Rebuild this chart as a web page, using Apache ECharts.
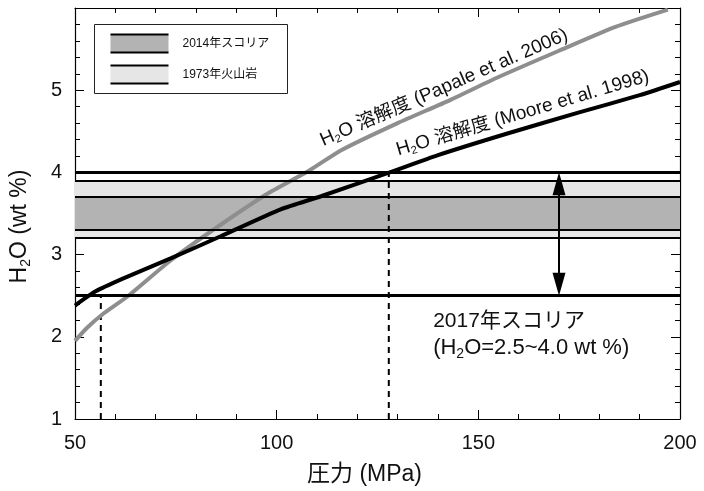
<!DOCTYPE html>
<html>
<head>
<meta charset="utf-8">
<script src="https://cdn.jsdelivr.net/npm/echarts@6/dist/echarts.min.js"></script>
<style>
  html, body { margin: 0; padding: 0; background: #fff; }
  #chart { width: 704px; height: 491px; }
</style>
</head>
<body>
<div id="chart"></div>
<script>
  // Papale et al. 2006 (gray)
  const papalePressure = [50, 53, 57, 63, 74, 86, 98, 108, 116, 130, 143, 155, 170, 184, 197]
  const papaleH2O = [1.95, 2.11, 2.28, 2.49, 2.94, 3.36, 3.75, 4.02, 4.27, 4.60, 4.88, 5.16, 5.48, 5.77, 5.98]
  // Moore et al. 1998 (black)
  const moorePressure = [50, 55, 62, 74, 86, 101, 111, 128, 140, 157, 175, 190, 200]
  const mooreH2O = [2.38, 2.55, 2.71, 2.96, 3.22, 3.55, 3.71, 4.0, 4.21, 4.47, 4.73, 4.94, 5.10]
  // bands
  const lava1973 = [3.2, 3.9]
  const scoria2014 = [3.3, 3.7]
  const scoria2017 = [2.5, 4.0]
  // dashed verticals: pressure, top H2O
  const dashPressure = [56.4, 127.8]
  const dashTop = [2.5, 4.0]
  const arrowPressure = 170
  const xTicks = [50, 100, 150, 200]
  const yTicks = [1, 2, 3, 4, 5]

  const FONT = "'Liberation Sans', Arial, 'Noto Sans CJK JP', sans-serif"
  const chart = echarts.init(document.getElementById('chart'))

  const zip = (a, b) => a.map((v, i) => [v, b[i]])

  function mirrorAxis(extra) {
    return Object.assign({
      type: 'value',
      axisLine: { show: true, onZero: false, lineStyle: { color: '#000', width: 1.2 } },
      axisTick: { show: true, inside: true, length: 9, lineStyle: { color: '#000', width: 1 } },
      minorTick: { show: true, splitNumber: 5, length: 5, lineStyle: { color: '#000', width: 1 } },
      splitLine: { show: false },
      minorSplitLine: { show: false },
      axisLabel: { show: false }
    }, extra)
  }

  const hLines = [
    { yAxis: scoria2017[1], lineStyle: { width: 3 } },
    { yAxis: lava1973[1], lineStyle: { width: 2 } },
    { yAxis: scoria2014[1], lineStyle: { width: 2 } },
    { yAxis: scoria2014[0], lineStyle: { width: 2 } },
    { yAxis: lava1973[0], lineStyle: { width: 2 } },
    { yAxis: scoria2017[0], lineStyle: { width: 3 } }
  ]

  const dashSeries = dashPressure.map((p, i) => ({
    type: 'line',
    symbol: 'none',
    silent: true,
    z: 3,
    lineStyle: { color: '#000', width: 2, type: [6, 5] },
    data: [[p, 1], [p, dashTop[i]]]
  }))

  // arrow heads are centred on the line ends, so pull the ends in by half a head
  const headLen = 23
  const pxPerUnit = (491 - 8 - 71) / 5
  const headShift = headLen / 2 / pxPerUnit

  chart.setOption({
    backgroundColor: '#fff',
    animation: false,
    textStyle: { fontFamily: FONT },
    grid: { left: 75, right: 24, top: 8, bottom: 71 },
    xAxis: [
      mirrorAxis({
        min: xTicks[0], max: xTicks[xTicks.length - 1], interval: 50, position: 'bottom',
        axisLabel: { show: true, fontSize: 20, color: '#111', margin: 14, fontFamily: FONT },
        name: '圧力 (MPa)',
        nameLocation: 'middle',
        nameGap: 44,
        nameTextStyle: { fontSize: 23, color: '#111', fontFamily: FONT, padding: [0, 26, 0, 0] }
      }),
      mirrorAxis({ min: 50, max: 200, interval: 50, position: 'top' })
    ],
    yAxis: [
      mirrorAxis({
        min: yTicks[0], max: 6, interval: 1, position: 'left',
        axisLabel: {
          show: true, fontSize: 20, color: '#111', margin: 13, fontFamily: FONT,
          formatter: v => (yTicks.indexOf(v) >= 0 ? String(v) : '')
        },
        name: '{a|H}{s|2}{a|O (wt %)}',
        nameLocation: 'middle',
        nameGap: 42,
        nameTextStyle: {
          color: '#111',
          padding: [0, 26, 0, 0],
          rich: {
            a: { fontSize: 23, color: '#111', fontFamily: FONT },
            s: { fontSize: 14, color: '#111', fontFamily: FONT, padding: [13, 0, 0, 0] }
          }
        }
      }),
      mirrorAxis({ min: 1, max: 6, interval: 1, position: 'right' })
    ],
    graphic: [
      {
        type: 'group', left: 94, top: 24, z: 100,
        children: [
          { type: 'rect', shape: { x: 0, y: 0, width: 193, height: 69 },
            style: { fill: '#fff', stroke: '#222', lineWidth: 1 } },
          { type: 'rect', shape: { x: 16, y: 10, width: 58, height: 18 }, style: { fill: '#b3b3b3' } },
          { type: 'line', shape: { x1: 16, y1: 10, x2: 74, y2: 10 }, style: { stroke: '#000', lineWidth: 2 } },
          { type: 'line', shape: { x1: 16, y1: 28, x2: 74, y2: 28 }, style: { stroke: '#000', lineWidth: 2 } },
          { type: 'text', x: 88, y: 19, style: { text: '2014年スコリア', font: '12px ' + FONT, fill: '#111', verticalAlign: 'middle' } },
          { type: 'rect', shape: { x: 16, y: 41, width: 58, height: 18 }, style: { fill: '#e6e6e6' } },
          { type: 'line', shape: { x1: 16, y1: 41, x2: 74, y2: 41 }, style: { stroke: '#000', lineWidth: 2 } },
          { type: 'line', shape: { x1: 16, y1: 59, x2: 74, y2: 59 }, style: { stroke: '#000', lineWidth: 2 } },
          { type: 'text', x: 88, y: 50, style: { text: '1973年火山岩', font: '12px ' + FONT, fill: '#111', verticalAlign: 'middle' } }
        ]
      }
    ],
    series: [
      {
        type: 'line',
        data: [],
        silent: true,
        markArea: {
          silent: true,
          data: [
            [{ yAxis: lava1973[0], itemStyle: { color: '#e6e6e6' } }, { yAxis: lava1973[1] }],
            [{ yAxis: scoria2014[0], itemStyle: { color: '#b3b3b3' } }, { yAxis: scoria2014[1] }]
          ]
        }
      },
      {
        name: 'Papale',
        type: 'line',
        symbol: 'none',
        smooth: 0.2,
        z: 4,
        lineStyle: { color: '#8e8e8e', width: 4 },
        data: zip(papalePressure, papaleH2O)
      },
      {
        type: 'line',
        data: [],
        silent: true,
        z: 5,
        markLine: {
          silent: true,
          symbol: 'none',
          label: { show: false },
          lineStyle: { color: '#000', type: 'solid' },
          data: hLines
        }
      },
      {
        name: 'Moore',
        type: 'line',
        symbol: 'none',
        smooth: 0.2,
        z: 6,
        lineStyle: { color: '#000', width: 4 },
        data: zip(moorePressure, mooreH2O)
      },
      ...dashSeries,
      {
        type: 'line',
        data: [],
        silent: true,
        z: 7,
        markLine: {
          silent: true,
          symbol: ['triangle', 'triangle'],
          symbolSize: [13, headLen],
          label: { show: false },
          lineStyle: { color: '#000', width: 2, type: 'solid' },
          itemStyle: { color: '#000' },
          data: [[
            { coord: [arrowPressure, scoria2017[0] + headShift] },
            { coord: [arrowPressure, scoria2017[1] - headShift] }
          ]]
        }
      },
      {
        type: 'scatter',
        symbolSize: 0,
        silent: true,
        z: 8,
        itemStyle: { opacity: 1, color: '#000' },
        label: {
          show: true,
          position: 'inside',
          color: '#111',
          fontFamily: FONT,
          textBorderWidth: 0,
          rich: {
            a: { fontSize: 19, color: '#111', fontFamily: FONT },
            s: { fontSize: 11, color: '#111', fontFamily: FONT, padding: [10, 0, 0, 0] },
            b: { fontSize: 21, color: '#111', fontFamily: FONT, lineHeight: 27 },
            c: { fontSize: 22, color: '#111', fontFamily: FONT, lineHeight: 27 },
            t: { fontSize: 14, color: '#111', fontFamily: FONT, padding: [12, 0, 0, 0], lineHeight: 27 }
          }
        },
        data: [
          { value: [141.5, 5.03], label: { rotate: 23.5, formatter: '{a|H}{s|2}{a|O 溶解度 (Papale et al. 2006)}' } },
          { value: [161, 4.72], label: { rotate: 16.5, formatter: '{a|H}{s|2}{a|O 溶解度 (Moore et al. 1998)}' } },
          { value: [138.8, 2.03], label: { align: 'left', formatter: '{b|2017年スコリア}\n{c|(H}{t|2}{c|O=2.5~4.0 wt %)}' } }
        ]
      }
    ]
  })
</script>
</body>
</html>
